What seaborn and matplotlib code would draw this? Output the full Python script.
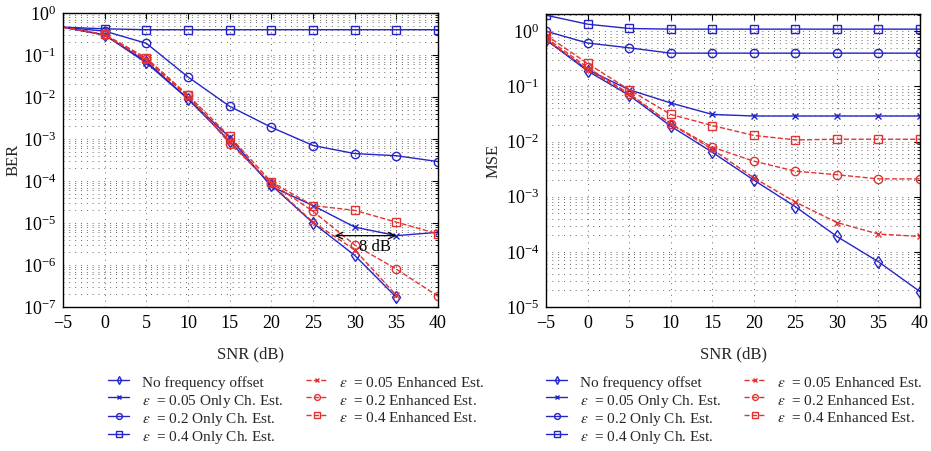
import numpy as np
import pandas as pd
import matplotlib
matplotlib.use("Agg")
import matplotlib.pyplot as plt
import seaborn as sns
from matplotlib.ticker import LogLocator, LogFormatterSciNotation, NullFormatter

# ---------------- data ----------------
snr = [-5, 0, 5, 10, 15, 20, 25, 30, 35, 40]
snr35 = [-5, 0, 5, 10, 15, 20, 25, 30, 35]

ber_no_offset = [0.46, 0.30, 0.070, 0.0090, 0.00088, 8.0e-5, 1.0e-5, 1.7e-6, 1.7e-7]
ber_005_only = [0.46, 0.30, 0.065, 0.0090, 0.0011, 7.4e-5, 2.6e-5, 8.0e-6, 5.0e-6, 6.0e-6]
ber_02_only = [0.46, 0.37, 0.19, 0.030, 0.0060, 0.0019, 7.0e-4, 4.5e-4, 4.0e-4, 2.9e-4]
ber_04_only = [0.46, 0.42, 0.40, 0.40, 0.40, 0.40, 0.40, 0.40, 0.40, 0.40]
ber_005_enh = [0.46, 0.30, 0.075, 0.010, 0.0009, 8.5e-5, 1.05e-5, 2.3e-6, 1.9e-7]
ber_02_enh = [0.46, 0.30, 0.080, 0.011, 0.00078, 9.0e-5, 1.9e-5, 3.0e-6, 8.0e-7, 1.8e-7]
ber_04_enh = [0.46, 0.31, 0.085, 0.011, 0.00115, 9.5e-5, 2.6e-5, 2.0e-5, 1.05e-5, 5.5e-6]

mse_no_offset = [0.70, 0.19, 0.069, 0.019, 0.0064, 0.0020, 6.6e-4, 1.9e-4, 6.6e-5, 1.9e-5]
mse_005_only = [0.70, 0.20, 0.087, 0.050, 0.031, 0.029, 0.029, 0.029, 0.029, 0.029]
mse_02_only = [1.00, 0.61, 0.50, 0.40, 0.40, 0.40, 0.40, 0.40, 0.40, 0.40]
mse_04_only = [1.95, 1.34, 1.12, 1.09, 1.09, 1.09, 1.09, 1.09, 1.09, 1.09]
mse_005_enh = [0.70, 0.20, 0.072, 0.021, 0.0072, 0.0022, 8.0e-4, 3.4e-4, 2.1e-4, 1.9e-4]
mse_02_enh = [0.76, 0.22, 0.074, 0.021, 0.0079, 0.0044, 0.0029, 0.0025, 0.0021, 0.0021]
mse_04_enh = [0.85, 0.26, 0.087, 0.031, 0.0195, 0.0129, 0.0107, 0.011, 0.011, 0.011]

labels = [
    "No frequency offset",
    r"$\varepsilon$  = 0.05 Only Ch. Est.",
    r"$\varepsilon$  = 0.2 Only Ch. Est.",
    r"$\varepsilon$  = 0.4 Only Ch. Est.",
    r"$\varepsilon$  = 0.05 Enhanced Est.",
    r"$\varepsilon$  = 0.2 Enhanced Est.",
    r"$\varepsilon$  = 0.4 Enhanced Est.",
]

# ---------------- style ----------------
sns.set_theme(style="white")
plt.rcParams["font.family"] = ["Liberation Serif", "DejaVu Serif"]
plt.rcParams["mathtext.fontset"] = "stix"

BLUE = "#2424c8"
RED = "#e33232"
styles = [
    dict(color=BLUE, marker="d", linestyle="-"),
    dict(color=BLUE, marker="x", linestyle="-"),
    dict(color=BLUE, marker="o", linestyle="-"),
    dict(color=BLUE, marker="s", linestyle="-"),
    dict(color=RED, marker="x", linestyle="--"),
    dict(color=RED, marker="o", linestyle="--"),
    dict(color=RED, marker="s", linestyle="--"),
]

fig = plt.figure(figsize=(9.31, 4.51), dpi=100)
W, H = 931, 451
ax1 = fig.add_axes([63 / W, 1 - 307 / H, 375 / W, 294 / H])
ax2 = fig.add_axes([546 / W, 1 - 307 / H, 374 / W, 293 / H])

ber_sets = [(snr35, ber_no_offset), (snr, ber_005_only), (snr, ber_02_only), (snr, ber_04_only),
            (snr35, ber_005_enh), (snr, ber_02_enh), (snr, ber_04_enh)]
mse_sets = [(snr, mse_no_offset), (snr, mse_005_only), (snr, mse_02_only), (snr, mse_04_only),
            (snr, mse_005_enh), (snr, mse_02_enh), (snr, mse_04_enh)]


def draw(ax, sets, skip_first):
    for (x, y), st, lab in zip(sets, styles, labels):
        ms = 4.5 if st["marker"] == "x" else 6
        kw = dict(markevery=list(range(1, len(x)))) if skip_first else {}
        sns.lineplot(x=x, y=y, ax=ax, color=st["color"], marker=st["marker"],
                     linestyle=st["linestyle"], linewidth=1.0, markersize=ms,
                     markerfacecolor="none", markeredgecolor=st["color"],
                     markeredgewidth=1.0, label=lab, legend=False, **kw)


draw(ax1, ber_sets, True)
draw(ax2, mse_sets, False)

ax1.set_yscale("log")
ax2.set_yscale("log")
ax1.set_ylim(1e-7, 1)
ax2.set_ylim(1e-5, 2.05)

for ax in (ax1, ax2):
    ax.set_xlim(-5, 40)
    ax.set_xticks(range(-5, 41, 5))
    ax.yaxis.set_major_locator(LogLocator(base=10, numticks=20))
    ax.yaxis.set_minor_locator(LogLocator(base=10, subs=np.arange(2, 10), numticks=20))
    ax.yaxis.set_minor_formatter(NullFormatter())
    ax.yaxis.set_major_formatter(LogFormatterSciNotation())
    ax.tick_params(axis="both", which="both", direction="in", top=True, right=True,
                   labelsize=13, colors="black", pad=6)
    ax.tick_params(axis="y", which="both", pad=5)
    ax.tick_params(axis="both", which="major", length=4, width=0.8)
    ax.tick_params(axis="y", which="minor", length=2, width=0.6)
    ax.grid(True, which="major", axis="x", color="#666666", linestyle=(0, (1, 5)), linewidth=0.7)
    ax.grid(True, which="both", axis="y", color="#666666", linestyle=(0, (1, 5)), linewidth=0.7)
    for sp in ax.spines.values():
        sp.set_color("black")
        sp.set_linewidth(1.0)
    ax.set_xlabel("SNR (dB)", fontsize=12, labelpad=10)
    ax.set_facecolor("white")

ax1.set_ylabel("BER", fontsize=12, labelpad=1)
ax2.set_ylabel("MSE", fontsize=12, labelpad=3)

# annotation "8 dB"
ax1.annotate("", xy=(27.6, 5e-6), xytext=(35, 5e-6),
             arrowprops=dict(arrowstyle="<->", color="black", lw=0.9, shrinkA=0, shrinkB=0))
ax1.text(32.4, 2.7e-6, "8 dB", fontsize=12, ha="center", va="center", color="black")

# legends
h1, l1 = ax1.get_legend_handles_labels()
h2, l2 = ax2.get_legend_handles_labels()
legkw = dict(ncol=2, frameon=False, fontsize=11, handlelength=1.4, handletextpad=0.8,
             handleheight=1.45, columnspacing=1.5, labelspacing=-0.05, markerscale=0.7,
             loc="upper left", borderpad=0, borderaxespad=0)
fig.legend(h1, l1, bbox_to_anchor=(108 / W, 1 - 373 / H), **legkw)
fig.legend(h2, l2, bbox_to_anchor=(546 / W, 1 - 373 / H), **legkw)

fig.savefig("out.png", dpi=100, facecolor="white")
